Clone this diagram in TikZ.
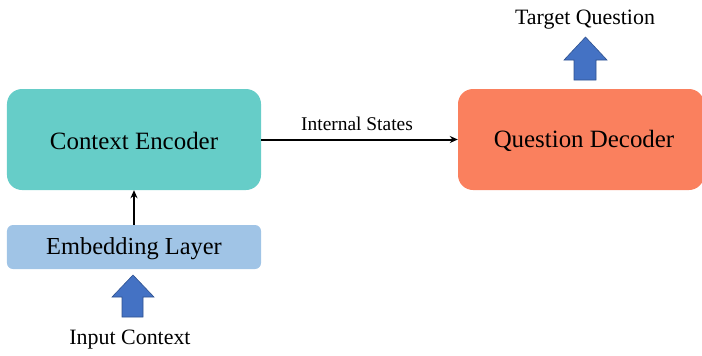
\documentclass[tikz,border=0pt]{standalone}
\usepackage{fontspec}
\setmainfont{Liberation Serif}
\usetikzlibrary{arrows.meta}
\definecolor{encteal}{RGB}{102,205,200}
\definecolor{decorange}{RGB}{250,128,94}
\definecolor{emblue}{RGB}{160,196,230}
\definecolor{blkfill}{RGB}{68,114,196}
\definecolor{blkedge}{RGB}{47,82,143}
\tikzset{
  bigbox/.style={draw=none, rounded corners=15bp, inner sep=0pt},
  flowarrow/.style={-{Stealth[length=8bp,width=7bp]}, line width=2bp, black},
  blockarrow/.style={fill=blkfill, draw=blkedge, line width=0.6bp},
  lbl/.style={inner sep=0pt, anchor=center}
}
\begin{document}
\begin{tikzpicture}[x=1bp,y=-1bp]
  \useasboundingbox (0,0) rectangle (702,355);

  % encoder and embedding on the left
  \node[bigbox, fill=encteal, minimum width=254bp, minimum height=101bp] (enc) at (134,139.5) {};
  \node[lbl] (enct) at (134,141) {\fontsize{25}{28}\selectfont Context Encoder};
  \node[bigbox, fill=emblue, rounded corners=6bp, minimum width=254bp, minimum height=44bp] (emb) at (134,247) {};
  \node[lbl] (embt) at (134,249) {\fontsize{24.5}{28}\selectfont Embedding Layer};

  % decoder on the right
  \node[bigbox, fill=decorange, minimum width=246bp, minimum height=101bp] (dec) at (581,139.5) {};
  \node[lbl] (dect) at (584,141) {\fontsize{25}{28}\selectfont Question Decoder};

  % labels
  \node[lbl] (tq) at (585,20) {\fontsize{22}{26}\selectfont Target Question};
  \node[lbl] (ic) at (130,340) {\fontsize{22}{26}\selectfont Input Context};

  % connectors
  \draw[flowarrow] (emb.north) -- (enc.south);
  \draw[flowarrow] (enc.east) -- (dec.west);
  \node[lbl] (ist) at (357,124) {\fontsize{19.5}{22}\selectfont Internal\ States};

  % block arrows
  \draw[blockarrow] (574,80) -- (574,60) -- (564,60) -- (585.5,37) -- (607,60) -- (596,60) -- (596,80) -- cycle;
  \draw[blockarrow] (122,317) -- (122,297) -- (112,297) -- (133,275) -- (154,297) -- (143,297) -- (143,317) -- cycle;
\end{tikzpicture}
\end{document}
